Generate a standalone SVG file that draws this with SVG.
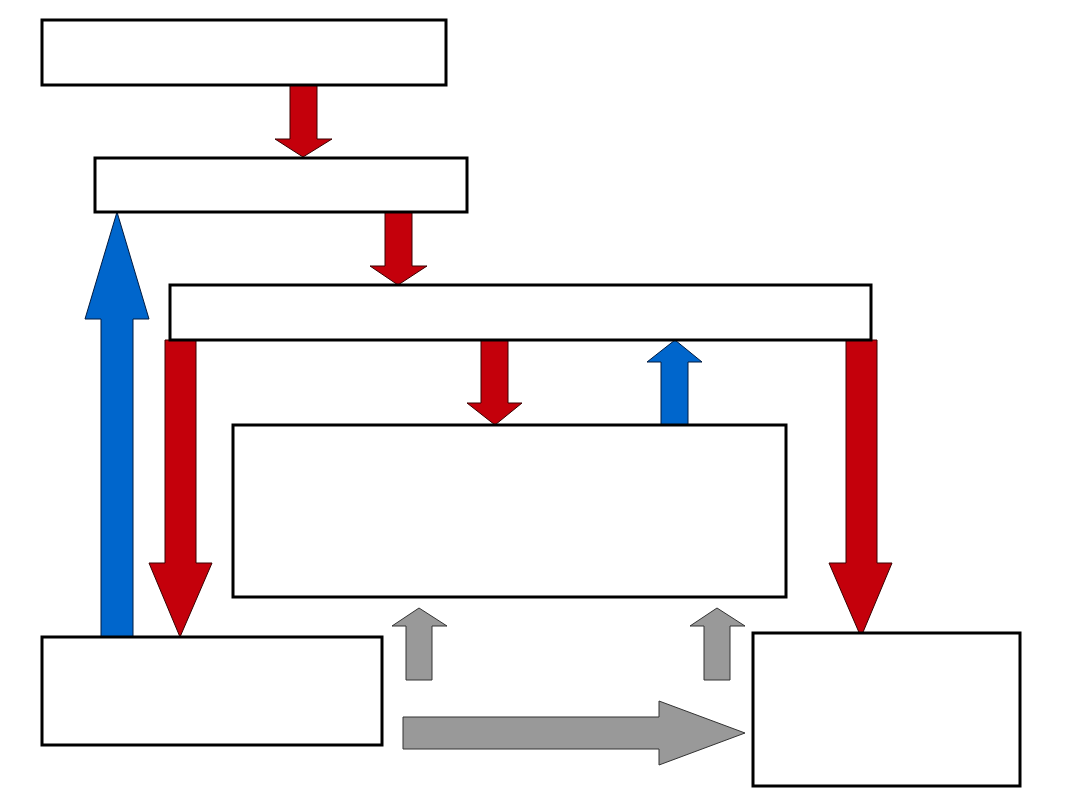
<svg xmlns="http://www.w3.org/2000/svg" width="1080" height="810" viewBox="0 0 1080 810">
<style>
.box{fill:#fff;stroke:#000;stroke-width:3}
.red{fill:#C4000B;stroke:#3a0000;stroke-width:1}
.blue{fill:#0066CC;stroke:#001a40;stroke-width:1}
.gray{fill:#999999;stroke:#333;stroke-width:1}
</style>
<rect width="1080" height="810" fill="#fff"/>
<g id="connectors">
<polygon class="red" points="290,85 317,85 317,139 332,139 303,157 275,139 290,139"/>
<polygon class="red" points="385,212 412,212 412,266 427,266 398,285 370,266 385,266"/>
<polygon class="red" points="481,340 508,340 508,403 522,403 495,425 467,403 481,403"/>
<polygon class="blue" points="661,425 688,425 688,362 702,362 675,340 647,362 661,362"/>
<polygon class="red" points="165,340 196,340 196,563 212,563 180,637 149,563 165,563"/>
<polygon class="red" points="846,340 877,340 877,563 892,563 861,637 829,563 846,563"/>
<polygon class="blue" points="101,637 133,637 133,319 149,319 117,212 85,319 101,319"/>
<polygon class="gray" points="406,680 432,680 432,626 447,626 419,608 392,626 406,626"/>
<polygon class="gray" points="704,680 730,680 730,626 745,626 717,608 690,626 704,626"/>
<polygon class="gray" points="403,717 659,717 659,701 745,733 659,765 659,749 403,749"/>
</g>
<g id="node1"><rect class="box" x="42" y="20" width="404" height="65"/></g>
<g id="node2"><rect class="box" x="95" y="158" width="372" height="54"/></g>
<g id="node3"><rect class="box" x="170" y="285" width="701" height="55"/></g>
<g id="node4"><rect class="box" x="233" y="425" width="553" height="172"/></g>
<g id="node5"><rect class="box" x="42" y="637" width="340" height="108"/></g>
<g id="node6"><rect class="box" x="753" y="633" width="267" height="153"/></g>
</svg>
